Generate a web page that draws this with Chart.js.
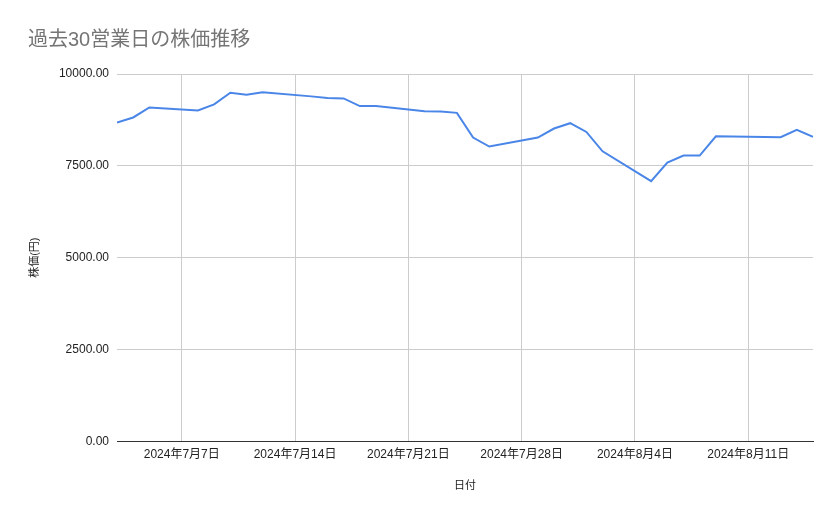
<!DOCTYPE html>
<html>
<head>
<meta charset="utf-8">
<script src="https://cdn.jsdelivr.net/npm/chart.js@4/dist/chart.umd.min.js"></script>
<style>
  html, body { margin: 0; padding: 0; background: #fff; }
  #wrap { width: 839px; height: 519px; }
</style>
</head>
<body>
<div id="wrap"><canvas id="stock-chart" width="839" height="519"></canvas></div>
<script>
// 日付と終値
const dates = [
    '2024-07-03', '2024-07-04', '2024-07-05', '2024-07-08', '2024-07-09',
    '2024-07-10', '2024-07-11', '2024-07-12', '2024-07-15', '2024-07-16',
    '2024-07-17', '2024-07-18', '2024-07-19', '2024-07-22', '2024-07-23',
    '2024-07-24', '2024-07-25', '2024-07-26', '2024-07-29', '2024-07-30',
    '2024-07-31', '2024-08-01', '2024-08-02', '2024-08-05', '2024-08-06',
    '2024-08-07', '2024-08-08', '2024-08-09', '2024-08-12', '2024-08-13',
    '2024-08-14', '2024-08-15'
];
const prices = [
    8680, 8817, 9090, 9008, 9172,
    9489, 9434, 9500, 9391, 9344,
    9336, 9126, 9126, 8989, 8981,
    8943, 8270, 8025, 8270, 8516,
    8661, 8423, 7896, 7085, 7587,
    7779, 7779, 8306, 8287, 8279,
    8478, 8287
];
const xTickDates = ['2024-07-07', '2024-07-14', '2024-07-21', '2024-07-28', '2024-08-04', '2024-08-11'];
const yTicks = [0, 2500, 5000, 7500, 10000];

const FONT = "'Liberation Sans', Arial, 'Noto Sans CJK JP', sans-serif";

// 2024-06-30 からの日数に変換
function dayNum(s) {
    const [y, m, d] = s.split('-').map(Number);
    return (Date.UTC(y, m - 1, d) - Date.UTC(2024, 5, 30)) / 86400000;
}
function dayLabel(n) {
    const dt = new Date(Date.UTC(2024, 5, 30) + n * 86400000);
    return dt.getUTCFullYear() + '年' + (dt.getUTCMonth() + 1) + '月' + dt.getUTCDate() + '日';
}

const points = dates.map((d, i) => ({ x: dayNum(d), y: prices[i] }));

new Chart(document.getElementById('stock-chart'), {
    type: 'line',
    data: {
        datasets: [{
            label: '株価',
            data: points,
            borderColor: '#4a86e8',
            borderWidth: 2,
            pointRadius: 0,
            tension: 0,
            fill: false
        }]
    },
    options: {
        responsive: false,
        animation: false,
        layout: { padding: { left: 28, right: 26, top: 0, bottom: 22 } },
        plugins: {
            legend: { display: false },
            tooltip: { enabled: false },
            title: {
                display: true,
                text: '過去30営業日の株価推移',
                align: 'start',
                color: '#757575',
                font: { family: FONT, size: 20, weight: 'normal' },
                padding: { top: 28, bottom: 22 }
            }
        },
        scales: {
            x: {
                type: 'linear',
                min: dayNum(dates[0]),
                max: dayNum(dates[dates.length - 1]),
                afterBuildTicks: scale => {
                    scale.ticks = xTickDates.map(d => ({ value: dayNum(d) }));
                },
                ticks: {
                    autoSkip: false,
                    maxRotation: 0,
                    padding: 6,
                    color: '#222',
                    font: { family: FONT, size: 12 },
                    callback: v => dayLabel(v)
                },
                grid: { color: '#cccccc', drawTicks: false },
                border: { display: true, color: '#333', width: 1 },
                title: {
                    display: true,
                    text: '日付',
                    color: '#222',
                    font: { family: FONT, size: 11 },
                    padding: { top: 12, bottom: 4 }
                }
            },
            y: {
                min: 0,
                max: 10000,
                afterBuildTicks: scale => {
                    scale.ticks = yTicks.map(v => ({ value: v }));
                },
                afterFit: scale => { scale.width = 89; },
                ticks: {
                    padding: 8,
                    color: '#222',
                    font: { family: FONT, size: 12 },
                    callback: v => v.toFixed(2)
                },
                grid: {
                    drawTicks: false,
                    color: ctx => (ctx.tick && ctx.tick.value === 0) ? '#333' : '#cccccc'
                },
                border: { display: false },
                title: {
                    display: true,
                    text: '株価(円)',
                    color: '#222',
                    font: { family: FONT, size: 11 },
                    padding: 0
                }
            }
        }
    }
});
</script>
</body>
</html>
